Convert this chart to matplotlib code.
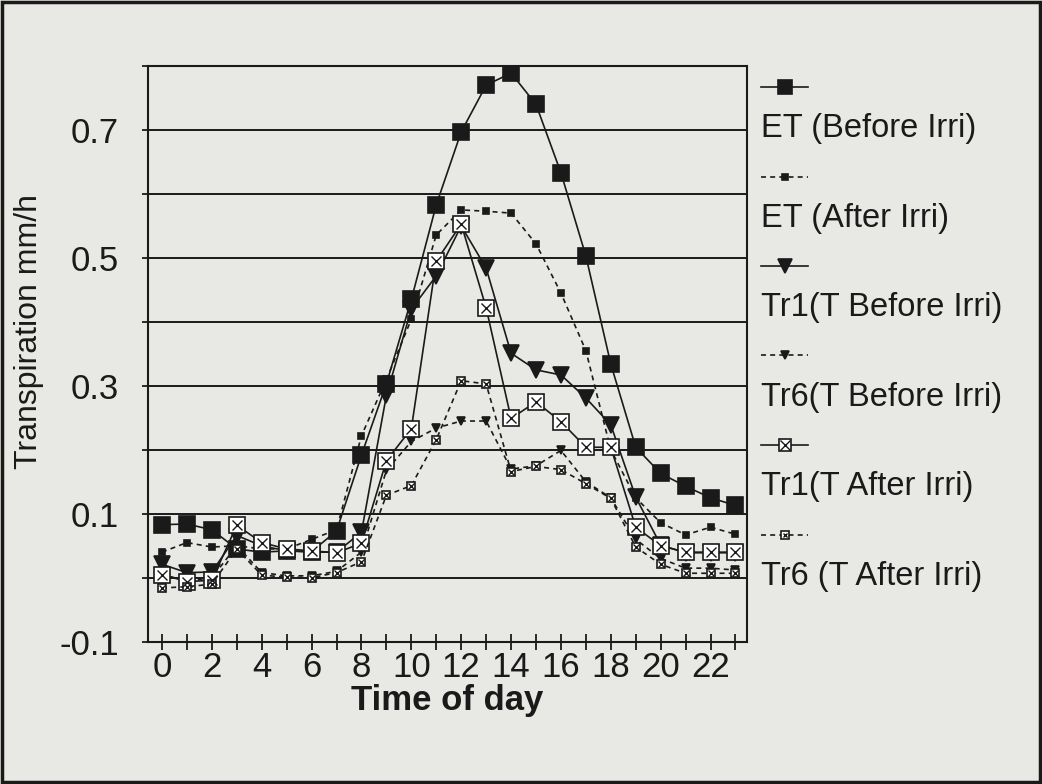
import numpy as np
import matplotlib.pyplot as plt
from matplotlib.lines import Line2D
from matplotlib.patches import Rectangle

plt.rcParams['font.family'] = ['Liberation Sans', 'DejaVu Sans']

hours = np.arange(24)

et_before = [0.083, 0.084, 0.075, 0.045, 0.040, 0.042, 0.041, 0.073, 0.192, 0.303, 0.435, 0.583,
             0.697, 0.770, 0.789, 0.740, 0.633, 0.503, 0.334, 0.204, 0.163, 0.143, 0.125, 0.113]
et_after = [0.040, 0.055, 0.048, 0.050, 0.045, 0.045, 0.060, 0.075, 0.222, 0.310, 0.404, 0.536,
            0.575, 0.573, 0.570, 0.522, 0.445, 0.355, 0.200, 0.125, 0.086, 0.067, 0.079, 0.068]
tr1_before = [0.021, 0.008, 0.009, 0.066, 0.050, 0.042, 0.040, 0.040, 0.071, 0.285, 0.420, 0.472,
              0.550, 0.484, 0.351, 0.325, 0.317, 0.281, 0.239, 0.126, 0.051, 0.039, 0.039, 0.039]
tr6_before = [0.005, -0.005, 0.000, 0.050, 0.008, 0.003, 0.003, 0.010, 0.040, 0.168, 0.213, 0.234,
              0.245, 0.245, 0.170, 0.175, 0.199, 0.150, 0.125, 0.060, 0.030, 0.015, 0.015, 0.012]
tr1_after = [0.005, -0.006, -0.004, 0.082, 0.055, 0.045, 0.042, 0.039, 0.054, 0.183, 0.233, 0.495,
             0.553, 0.422, 0.249, 0.275, 0.244, 0.204, 0.204, 0.079, 0.050, 0.040, 0.040, 0.040]
tr6_after = [-0.016, -0.014, -0.010, 0.045, 0.004, 0.001, 0.000, 0.008, 0.025, 0.129, 0.144, 0.216,
             0.308, 0.303, 0.166, 0.174, 0.169, 0.147, 0.124, 0.048, 0.021, 0.007, 0.007, 0.007]

labels = ['ET (Before Irri)', 'ET (After Irri)', 'Tr1(T Before Irri)',
          'Tr6(T Before Irri)', 'Tr1(T After Irri)', 'Tr6 (T After Irri)']

bg = '#e8e8e4'
ink = '#1a1a1a'
dash = (0, (3, 2.5))

fig = plt.figure(figsize=(10.42, 7.84), dpi=100, facecolor=bg)
ax = fig.add_axes([0.1423, 0.1815, 0.5743, 0.7343], facecolor=bg)

for v in np.arange(0.0, 0.75, 0.1):
    ax.axhline(v, color=ink, lw=1.4, zorder=1)

# (data, linestyle, marker, size, face, overlay x)
styles = [
    (et_before, '-', 's', 12, ink, False),
    (et_after, dash, 's', 5, ink, False),
    (tr1_before, '-', 'v', 12, ink, False),
    (tr6_before, dash, 'v', 6, ink, False),
    (tr1_after, '-', 's', 11, 'white', True),
    (tr6_after, dash, 's', 6, 'white', True),
]

for data, ls, mk, ms, fc, cross in styles:
    ax.plot(hours, data, color=ink, ls=ls, lw=1.2, marker=mk, ms=ms,
            mfc=fc, mec=ink, mew=1.2, zorder=3)
    if cross:
        ax.plot(hours, data, ls='none', marker='x', ms=ms * 0.7, mec=ink,
                mew=1.0, zorder=4)

ax.set_xlim(-0.55, 23.45)
ax.set_ylim(-0.1, 0.8)
ax.set_xticks(hours)
ax.set_xticklabels([str(h) if h % 2 == 0 else '' for h in hours])
ax.set_yticks(np.round(np.arange(-0.1, 0.81, 0.1), 1))
ax.set_yticklabels(['-0.1', '', '0.1', '', '0.3', '', '0.5', '', '0.7', ''])
ax.tick_params(axis='x', direction='inout', length=12, width=1.3, pad=1,
               labelsize=25, colors=ink)
ax.tick_params(axis='y', direction='out', length=4, width=1.3, pad=17,
               labelsize=25, colors=ink)
for s in ax.spines.values():
    s.set_linewidth(1.5)
    s.set_color(ink)

ax.set_xlabel('Time of day', fontsize=25, fontweight='bold', color=ink)
ax.xaxis.set_label_coords(0.5, -0.073)
ax.set_ylabel('Transpiration mm/h', fontsize=23, color=ink)
ax.yaxis.set_label_coords(-0.174, 0.538)

# legend drawn Excel-style: marker line above each label
W, H = 1042, 784
for i, (lab, st) in enumerate(zip(labels, styles)):
    data, ls, mk, ms, fc, cross = st
    yh = 1 - (87 + 89.5 * i) / H
    yt = 1 - (129 + 89.5 * i) / H
    x0, x1 = 761 / W, 808 / W
    fig.add_artist(Line2D([x0, x1], [yh, yh], color=ink, ls=ls, lw=1.2,
                          transform=fig.transFigure))
    fig.add_artist(Line2D([(x0 + x1) / 2], [yh], ls='none', marker=mk, ms=ms * 0.85,
                          mfc=fc, mec=ink, mew=1.2, transform=fig.transFigure))
    if cross:
        fig.add_artist(Line2D([(x0 + x1) / 2], [yh], ls='none', marker='x',
                              ms=ms * 0.6, mec=ink, mew=1.0,
                              transform=fig.transFigure))
    fig.text(x0, yt, lab, fontsize=23.5, color=ink, va='center', ha='left')

fig.add_artist(Rectangle((0.002, 0.002), 0.996, 0.995, fill=False, lw=2.5,
                         ec=ink, transform=fig.transFigure))

fig.savefig('out.png', dpi=100, facecolor=bg)
